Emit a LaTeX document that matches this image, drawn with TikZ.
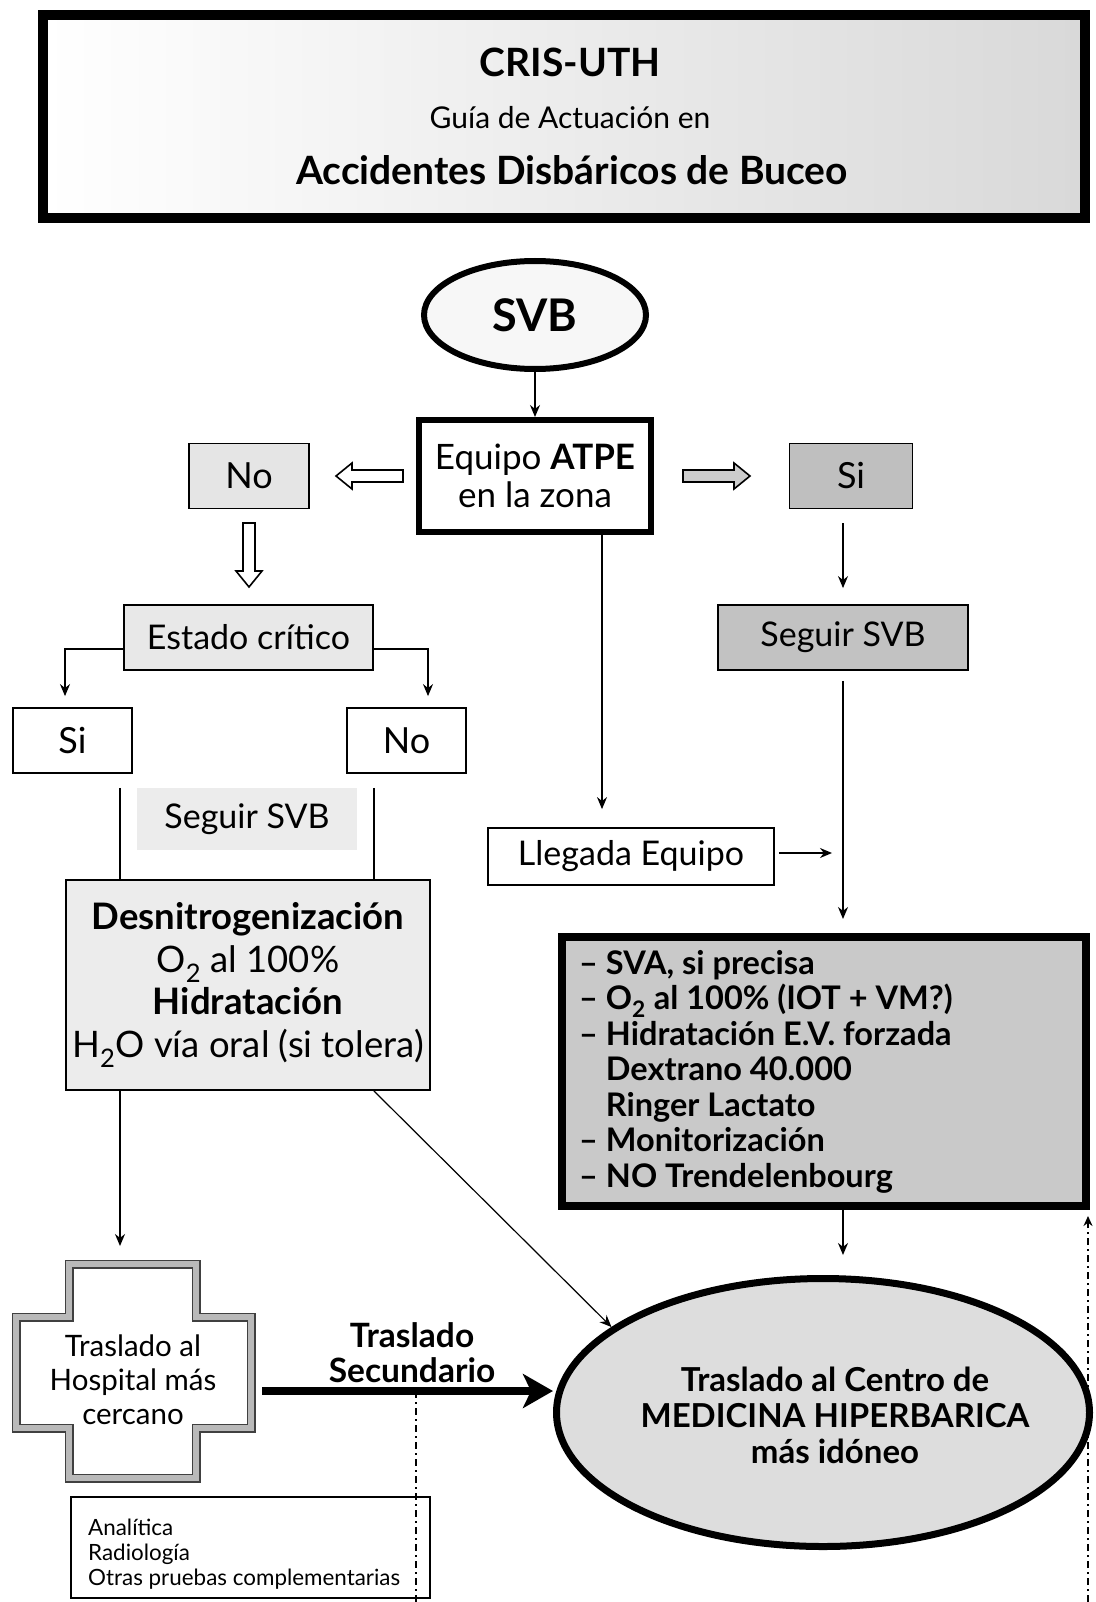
\documentclass[tikz,border=0pt]{standalone}
\usepackage{fontspec}
\setmainfont{Lato}
\usetikzlibrary{arrows.meta,shapes.geometric,calc}
\tikzset{
  arr/.style={line width=1.4pt, -{Stealth[length=12pt,width=10pt]}},
  ln/.style={line width=1.4pt},
  thickarr/.style={line width=8pt, -{Stealth[length=30pt,width=34pt,inset=8pt]}},
  dd/.style={line width=2.2pt, dash pattern=on 7pt off 4pt on 2pt off 4pt},
  box/.style={draw, rectangle, line width=1.8pt, inner sep=0pt, align=center, font=\fontsize{34}{40}\selectfont},
  yesno/.style={box, font=\fontsize{36}{42}\selectfont},
  heavybox/.style={draw, rectangle, inner sep=0pt, align=center},
  hollow/.style={draw, line width=1.6pt, line join=miter},
}
\begin{document}
\begin{tikzpicture}[x=1pt,y=-1pt]
\useasboundingbox (0,0) rectangle (1095,1602);

% ---------- title ----------
\node[heavybox, line width=10pt, left color=white, right color=gray!30, minimum width=1042pt, minimum height=203pt] (title) at (564,116.5) {};
\node[font=\fontsize{39}{46}\selectfont\bfseries] (t1) at (570,62) {CRIS-UTH};
\node[font=\fontsize{30}{36}\selectfont] (t2) at (570,118) {Guía de Actuación en};
\node[font=\fontsize{39}{46}\selectfont\bfseries] (t3) at (572,170) {Accidentes Disbáricos de Buceo};

% ---------- top ----------
\node[ellipse, draw, line width=6pt, fill=gray!6, minimum width=222pt, minimum height=108pt, inner sep=0pt, font=\fontsize{45}{52}\selectfont\bfseries] (svb) at (535,315) {SVB};
\node[heavybox, line width=6pt, fill=white, minimum width=232pt, minimum height=112pt, font=\fontsize{35}{38}\selectfont] (equipo) at (535,476) {Equipo \textbf{ATPE}\\en la zona};
\node[yesno, fill=gray!20, minimum width=120pt, minimum height=65pt] (noA) at (249,476) {No};
\node[yesno, fill=gray!50, minimum width=123pt, minimum height=65pt] (siA) at (851,476) {Si};

\draw[arr] (svb) -- (equipo);
% hollow arrows
\draw[hollow, fill=white] (336,476) -- (352,463) -- (352,470) -- (403,470) -- (403,482) -- (352,482) -- (352,489) -- cycle;
\draw[hollow, fill=gray!40] (750,476) -- (734,463) -- (734,470) -- (683,470) -- (683,482) -- (734,482) -- (734,489) -- cycle;
\draw[hollow, fill=white] (249,587) -- (236,571) -- (243,571) -- (243,523) -- (255,523) -- (255,571) -- (262,571) -- cycle;

% ---------- left branch ----------
\node[box, fill=gray!18, minimum width=249pt, minimum height=65pt] (estado) at (248.5,637.5) {Estado crítico};
\node[yesno, fill=white, minimum width=119pt, minimum height=65pt] (siB) at (72.5,740.5) {Si};
\node[yesno, fill=white, minimum width=119pt, minimum height=65pt] (noB) at (406.5,740.5) {No};
\node[rectangle, fill=gray!15, minimum width=220pt, minimum height=62pt, inner sep=0pt, font=\fontsize{34}{40}\selectfont] (seguirL) at (247,819) {Seguir SVB};
\node[box, fill=gray!15, minimum width=364pt, minimum height=210pt, font=\fontsize{36.5}{42.5}\selectfont] (desn) at (248,985)
  {{\bfseries Desnitrogenización}\\O\textsubscript{2} al 100\%\\{\bfseries Hidratación}\\H\textsubscript{2}O vía oral (si tolera)};

\draw[arr, shorten >=11pt] ([yshift=-11.5pt]estado.west) -| ([xshift=-7.5pt]siB.north);
\draw[arr, shorten >=11pt] ([yshift=-11.5pt]estado.east) -| ([xshift=21.5pt]noB.north);
\draw[ln, shorten <=14pt] ([xshift=47.5pt]siB.south) -- ([xshift=-128pt]desn.north);
\draw[ln, shorten <=14pt] ([xshift=-32.5pt]noB.south) -- ([xshift=126pt]desn.north);

% hospital cross
\draw[line width=9pt, draw=black!75, fill=white, line join=miter]
  (69,1264) -- (196,1264) -- (196,1317) -- (251,1317) -- (251,1428) -- (196,1428) -- (196,1478) -- (69,1478) -- (69,1428) -- (16,1428) -- (16,1317) -- (69,1317) -- cycle;
\draw[line width=6.5pt, draw=gray!55, line join=miter]
  (69,1264) -- (196,1264) -- (196,1317) -- (251,1317) -- (251,1428) -- (196,1428) -- (196,1478) -- (69,1478) -- (69,1428) -- (16,1428) -- (16,1317) -- (69,1317) -- cycle;
\node[align=center, font=\fontsize{29.5}{34}\selectfont] (hosp) at (133,1380) {Traslado al\\Hospital más\\cercano};
\coordinate (crossTop) at (120,1260);
\draw[arr, shorten >=14pt] ([xshift=-128pt]desn.south) -- (crossTop);

\node[align=center, font=\fontsize{33.5}{35}\selectfont\bfseries] (secund) at (412,1353) {Traslado\\Secundario};

\node[box, fill=white, minimum width=359pt, minimum height=101pt] (otras) at (250.5,1547.5) {};
\node[anchor=west, align=left, inner sep=0pt, font=\fontsize{22.4}{25}\selectfont] (otrast) at (88,1554) {Analítica\\Radiología\\Otras pruebas complementarias};

% ---------- right branch ----------
\node[box, fill=gray!48, minimum width=250pt, minimum height=65pt] (seguirR) at (843,637.5) {Seguir SVB};
\node[box, fill=white, minimum width=286pt, minimum height=57pt] (llegada) at (631,856.5) {Llegada Equipo};
\node[heavybox, line width=8pt, fill=gray!42, minimum width=524pt, minimum height=269pt] (sva) at (824,1071.5) {};
\node[anchor=west, align=left, inner sep=0pt, font=\fontsize{32.5}{35.5}\selectfont\bfseries] (svat) at (579,1071.5)
  {– SVA, si precisa\\– O\textsubscript{2} al 100\% (IOT + VM?)\\– Hidratación E.V. forzada\\\phantom{– }Dextrano 40.000\\\phantom{– }Ringer Lactato\\– Monitorización\\– NO Trendelenbourg};

\node[ellipse, draw, line width=7pt, fill=gray!27, minimum width=533pt, minimum height=268pt, inner sep=0pt] (hyper) at (823,1412.5) {};
\node[align=center, font=\fontsize{33}{36}\selectfont\bfseries] (hypert) at (835,1415) {Traslado al Centro de\\MEDICINA HIPERBARICA\\más idóneo};

\draw[arr, shorten <=14pt, shorten >=16pt] (siA.south -| seguirR.north) -- (seguirR.north);
\draw[arr, shorten >=18pt] ([xshift=67pt]equipo.south) -- ([xshift=-29pt]llegada.north);
\coordinate (jn) at (832,853);
\draw[arr, shorten <=4pt] (llegada.east |- jn) -- (jn);
\draw[arr, shorten <=10pt, shorten >=14pt] (seguirR.south) -- (seguirR.south |- sva.north);
\draw[arr, shorten >=20pt] (seguirR.south |- sva.south) -- (seguirR.south |- hyper.north);
\draw[arr, line width=1.2pt] ([xshift=-57pt]desn.south east) -- (hyper.158);

% thick transfer arrow
\coordinate (hospR) at (262,1391);
\draw[thickarr] (hospR) -- (hospR -| hyper.west);

% dash-dot lines
\coordinate (ddTop) at (416,1391);
\coordinate (ddBot) at (416,1602);
\draw[dd] (ddTop) -- (ddBot);
\coordinate (ddR) at (1088,1602);
\draw[dd, -{Stealth[length=10pt,width=9pt]}, shorten >=6pt] (ddR) -- (ddR |- sva.south east);
\end{tikzpicture}
\end{document}
